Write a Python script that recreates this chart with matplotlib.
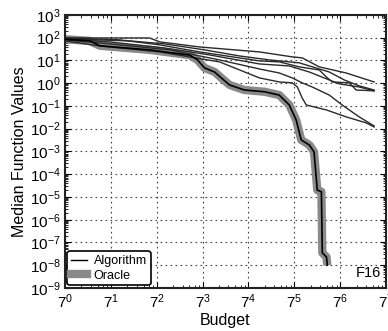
import numpy as np
import matplotlib
matplotlib.use("Agg")
import matplotlib.pyplot as plt
from matplotlib.ticker import LogLocator, FixedLocator, NullFormatter

plt.rcParams['font.family'] = ['Liberation Sans', 'DejaVu Sans']
plt.rcParams['mathtext.fontset'] = 'custom'
plt.rcParams['mathtext.rm'] = 'Liberation Sans'
plt.rcParams['mathtext.it'] = 'Liberation Sans:italic'
plt.rcParams['mathtext.default'] = 'regular'

# algorithm runs (budget, median function value)
alg_budgets = [
    [1, 36, 56, 302, 3820, 15400, 23550, 48400, 151800, 496000],
    [1, 10.2, 56, 302, 3820, 8900, 20750, 48400, 65000, 83900, 172300, 231700, 496000],
    [1, 6.7, 69, 461, 3820, 13600, 31700, 73900, 112800, 263000, 496000],
    [1, 6.7, 85, 704, 3820, 8900, 15400, 23550, 35900, 73900, 128000, 263000, 496000],
    [1, 4.4, 56, 704, 3820, 8900, 15400, 19100, 23550, 27900, 65000, 151800, 353700, 496000],
    [1, 15.6, 69, 373, 1640, 5830, 20750, 73900, 139500, 263000, 496000],
]
alg_values = [
    [97, 97, 65, 39, 23.6, 14.3, 12.9, 5.2, 2.8, 1.13],
    [97, 80, 48, 23.6, 9.5, 8.6, 5.2, 3.8, 1.9, 1.13, 1.03, 0.50, 0.46],
    [88, 65, 35, 17.4, 7.0, 5.7, 3.1, 1.39, 0.93, 0.68, 0.46],
    [80, 53, 29, 10.5, 4.2, 2.8, 1.7, 1.03, 0.68, 0.30, 0.11, 0.033, 0.0132],
    [72, 43, 23.6, 8.6, 1.7, 1.13, 1.03, 0.68, 0.22, 0.11, 0.067, 0.033, 0.018, 0.0119],
    [88, 72, 53, 29, 15.7, 10.5, 7.8, 3.1, 1.39, 0.76, 0.50],
]

# oracle
oracle_budget = [1, 2.86, 4.39, 36.6, 199, 277, 371, 569, 761, 1080, 2015, 4740, 8840,
                 13570, 18170, 22530, 31940, 38800, 44500, 53000, 55100, 65700, 68300]
oracle_value = [85, 72, 44, 29, 17, 10.5, 4.7, 3.1, 1.7, 0.83, 0.5, 0.42, 0.30,
                0.11, 0.024, 0.0032, 0.0019, 9.5e-4, 2.0e-5, 1.7e-5, 3.5e-8, 2.3e-8, 1.0e-8]

x_exps = list(range(0, 8))
y_exps = list(range(-9, 4))

fig = plt.figure(figsize=(3.88, 3.31), dpi=100)
ax = fig.add_axes([0.1675, 0.13, 0.8275, 0.825])

ax.plot(oracle_budget, oracle_value, color='#8a8a8a', lw=6, solid_capstyle='butt',
        solid_joinstyle='round', zorder=2)
ax.plot(oracle_budget, oracle_value, color='black', lw=1.2, zorder=4)
for b, v in zip(alg_budgets, alg_values):
    ax.plot(b, v, color='#2a2a2a', lw=1.0, zorder=3)

ax.set_xscale('log', base=7)
ax.set_yscale('log')
ax.set_xlim(1, 7 ** 7)
ax.set_ylim(1e-9, 1e3)

ax.xaxis.set_major_locator(FixedLocator([7.0 ** e for e in x_exps]))
ax.set_xticklabels(['$7^{%d}$' % e for e in x_exps])
ax.xaxis.set_minor_locator(LogLocator(base=7, subs=[2, 3, 4, 5, 6], numticks=50))
ax.xaxis.set_minor_formatter(NullFormatter())
ax.yaxis.set_major_locator(FixedLocator([10.0 ** e for e in y_exps]))
ax.set_yticklabels(['$10^{%d}$' % e for e in y_exps])
ax.yaxis.set_minor_locator(LogLocator(base=10, subs=np.arange(2, 10), numticks=50))
ax.yaxis.set_minor_formatter(NullFormatter())

ax.tick_params(which='both', direction='in', top=True, right=True, labelsize=11)
ax.tick_params(which='major', length=4, width=0.8, pad=3)
ax.tick_params(which='minor', length=2, width=0.6)
ax.grid(True, which='major', linestyle=(0, (1.5, 3)), color='#444444', lw=0.8)
for s in ax.spines.values():
    s.set_linewidth(1.5)
    s.set_color('#222222')

ax.set_xlabel('Budget', fontsize=11.5)
ax.xaxis.set_label_coords(0.5, -0.093)
ax.set_ylabel('Median Function Values', fontsize=11.5, labelpad=2)

ax.plot([], [], color='black', lw=1.0, label='Algorithm')
ax.plot([], [], color='#8a8a8a', lw=6, label='Oracle')
leg = ax.legend(loc='lower left', fontsize=9, frameon=True, fancybox=True,
                handlelength=1.3, handletextpad=0.5, borderpad=0.3, labelspacing=0.2,
                borderaxespad=0.2)
leg.get_frame().set_edgecolor('black')
leg.get_frame().set_linewidth(1.2)
leg.get_frame().set_alpha(1)

ax.text(0.985, 0.03, 'F16', transform=ax.transAxes, ha='right', va='bottom', fontsize=10.5)

fig.savefig('out.png', dpi=100)
